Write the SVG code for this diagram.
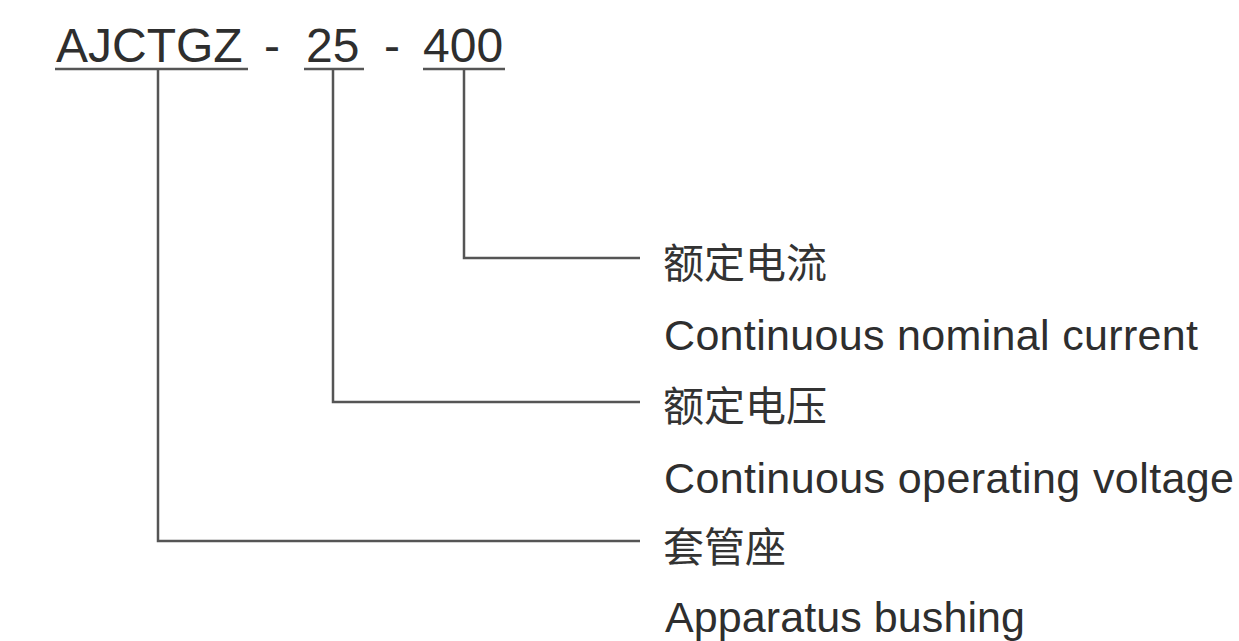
<svg xmlns="http://www.w3.org/2000/svg" width="1239" height="641" viewBox="0 0 1239 641">
<style>
.t{font-family:"Liberation Sans",Arial,sans-serif;fill:#2e2e2e}
.title{font-size:48px}
.en{font-size:43px}
.cn{font-family:"Noto Sans CJK SC","Liberation Sans",sans-serif;font-size:41px;fill:#333}
.ln{stroke:#555;stroke-width:2.5;fill:none}
</style>
<rect width="1239" height="641" fill="#fff"/>
<g id="model">
<text class="t title" x="56" y="62">AJCTGZ</text>
<text class="t title" x="264" y="62">-</text>
<text class="t title" x="306" y="62">25</text>
<text class="t title" x="384" y="62">-</text>
<text class="t title" x="423" y="62">400</text>
<line class="ln" x1="55" y1="69" x2="248" y2="69"/>
<line class="ln" x1="304" y1="69" x2="364" y2="69"/>
<line class="ln" x1="423" y1="69" x2="505" y2="69"/>
</g>
<g id="connectors">
<polyline class="ln" points="464,69 464,258 640,258"/>
<polyline class="ln" points="333,69 333,402 640,402"/>
<polyline class="ln" points="158,69 158,541 640,541"/>
</g>
<g id="current">
<text class="cn" x="663" y="278">额定电流</text>
<text class="t en" x="664" y="350" textLength="534" lengthAdjust="spacing">Continuous nominal current</text>
</g>
<g id="voltage">
<text class="cn" x="663" y="421">额定电压</text>
<text class="t en" x="664" y="493" textLength="570" lengthAdjust="spacing">Continuous operating voltage</text>
</g>
<g id="bushing">
<text class="cn" x="663" y="562">套管座</text>
<text class="t en" x="665" y="632" textLength="360" lengthAdjust="spacing">Apparatus bushing</text>
</g>
</svg>
